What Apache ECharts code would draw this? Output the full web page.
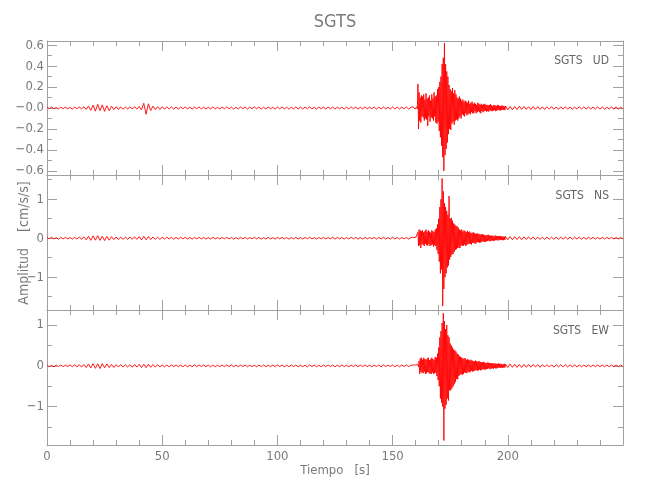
<!DOCTYPE html>
<html><head><meta charset="utf-8">
<script src="https://cdn.jsdelivr.net/npm/echarts@6/dist/echarts.min.js"></script>
<style>html,body{margin:0;padding:0;background:#fff}#c{width:650px;height:500px}</style>
</head><body><div id="c"></div>
<script>
// ---- data ----
// segment A: t = 0..158 s, step 1 s ; segment B: t = 159..198.75 s, step 0.25 s ; segment C: t = 199..250 s, step 1 s
const SEG_A_START = 0, SEG_A_STEP = 1;
const SEG_B_START = 159, SEG_B_STEP = 0.25;
const SEG_C_START = 199, SEG_C_STEP = 1;

const UD_A = [0.008,-0.006,0.01,-0.008,0.005,-0.01,0.007,-0.006,0.009,-0.008,
0.006,-0.01,0.008,-0.007,0.01,-0.009,0.012,-0.014,0.018,-0.022,
0.028,-0.03,0.035,-0.025,0.03,-0.032,0.022,-0.026,0.018,-0.015,
0.012,-0.014,0.01,-0.012,0.009,-0.011,0.012,-0.01,0.013,-0.011,
0.015,-0.018,0.045,-0.06,0.04,-0.025,0.018,-0.015,0.012,-0.014,
0.011,-0.01,0.012,-0.009,0.01,-0.011,0.008,-0.01,0.009,-0.007,
0.01,-0.008,0.007,-0.011,0.009,-0.006,0.01,-0.009,0.008,-0.01,
0.007,-0.009,0.011,-0.008,0.006,-0.01,0.009,-0.007,0.01,-0.008,
0.008,-0.011,0.007,-0.009,0.01,-0.006,0.009,-0.01,0.008,-0.007,
0.011,-0.008,0.009,-0.01,0.007,-0.009,0.01,-0.008,0.006,-0.01,
0.009,-0.007,0.01,-0.009,0.008,-0.011,0.007,-0.008,0.01,-0.009,
0.008,-0.01,0.009,-0.007,0.011,-0.008,0.007,-0.01,0.009,-0.008,
0.01,-0.009,0.008,-0.007,0.01,-0.011,0.009,-0.008,0.007,-0.01,
0.008,-0.009,0.011,-0.008,0.009,-0.01,0.007,-0.009,0.01,-0.008,
0.009,-0.007,0.01,-0.011,0.008,-0.009,0.01,-0.008,0.007,-0.01,
0.011,-0.009,0.008,-0.01,0.009,-0.008,0.01,-0.011,0.009];
const UD_B = [0.01,-0.008,0.006,-0.01,0.008,-0.005,0.012,-0.01,
0.23,-0.2,0.15,-0.12,0.1,-0.14,0.12,-0.08,
0.11,-0.09,0.13,-0.12,0.08,-0.1,0.14,-0.11,
0.09,-0.17,0.1,-0.08,0.12,-0.13,0.07,-0.09,
0.13,-0.1,0.09,-0.12,0.15,-0.08,0.11,-0.14,
0.12,-0.15,0.18,-0.13,0.2,-0.22,0.25,-0.28,
0.3,-0.36,0.42,-0.47,0.48,-0.6,0.62,-0.45,
0.42,-0.39,0.35,-0.33,0.3,-0.25,0.22,-0.2,
0.18,-0.21,0.16,-0.15,0.19,-0.13,0.14,-0.16,
0.17,-0.12,0.13,-0.11,0.1,-0.12,0.09,-0.1,
0.11,-0.08,0.09,-0.1,0.07,-0.06,0.08,-0.07,
0.06,-0.08,0.07,-0.05,0.06,-0.07,0.05,-0.06,
0.07,-0.05,0.04,-0.06,0.05,-0.04,0.06,-0.05,
0.04,-0.05,0.05,-0.03,0.04,-0.05,0.03,-0.04,
0.05,-0.03,0.04,-0.04,0.03,-0.05,0.04,-0.03,
0.03,-0.04,0.035,-0.03,0.04,-0.025,0.03,-0.035,
0.03,-0.03,0.025,-0.035,0.03,-0.02,0.035,-0.03,
0.025,-0.03,0.02,-0.025,0.03,-0.02,0.025,-0.03,
0.02,-0.025,0.03,-0.02,0.025,-0.02,0.02,-0.025,
0.02,-0.02,0.025,-0.015,0.02,-0.02,0.015,-0.02];
const UD_C = [0.02,-0.018,0.015,-0.017,0.014,-0.016,0.018,-0.013,0.015,-0.014,
0.012,-0.015,0.013,-0.012,0.014,-0.013,0.011,-0.014,0.012,-0.011,
0.013,-0.012,0.01,-0.013,0.011,-0.01,0.012,-0.011,0.01,-0.012,
0.009,-0.01,0.011,-0.009,0.012,-0.01,0.009,-0.011,0.01,-0.009,
0.011,-0.01,0.009,-0.011,0.008,-0.01,0.009,-0.008,0.01,-0.009,
0.008,-0.009];

const NS_A = [0.02,-0.015,0.025,-0.02,0.015,-0.025,0.02,-0.018,0.022,-0.02,
0.018,-0.025,0.02,-0.022,0.03,-0.028,0.035,-0.04,0.05,-0.055,
0.06,-0.05,0.065,-0.055,0.05,-0.06,0.045,-0.05,0.04,-0.035,
0.03,-0.035,0.028,-0.03,0.025,-0.03,0.03,-0.028,0.035,-0.03,
0.04,-0.045,0.05,-0.04,0.045,-0.035,0.03,-0.028,0.025,-0.03,
0.025,-0.022,0.028,-0.02,0.022,-0.025,0.02,-0.022,0.024,-0.018,
0.022,-0.02,0.018,-0.024,0.02,-0.016,0.022,-0.02,0.018,-0.022,
0.016,-0.02,0.024,-0.018,0.015,-0.022,0.02,-0.017,0.022,-0.018,
0.018,-0.024,0.016,-0.02,0.022,-0.015,0.02,-0.022,0.018,-0.016,
0.024,-0.018,0.02,-0.022,0.016,-0.02,0.022,-0.018,0.015,-0.022,
0.02,-0.016,0.022,-0.02,0.018,-0.024,0.016,-0.018,0.022,-0.02,
0.018,-0.022,0.02,-0.016,0.024,-0.018,0.016,-0.022,0.02,-0.018,
0.022,-0.02,0.018,-0.016,0.022,-0.024,0.02,-0.018,0.016,-0.022,
0.018,-0.02,0.024,-0.018,0.02,-0.022,0.016,-0.02,0.022,-0.018,
0.02,-0.016,0.022,-0.024,0.018,-0.02,0.022,-0.018,0.016,-0.022,
0.024,-0.02,0.018,-0.022,0.02,-0.018,0.022,-0.024,0.02];
const NS_B = [0.02,-0.018,0.022,-0.02,0.018,-0.022,0.02,-0.024,
0.15,-0.2,0.22,-0.18,0.2,-0.25,0.18,-0.15,
0.2,-0.17,0.15,-0.2,0.18,-0.14,0.22,-0.18,
0.16,-0.19,0.2,-0.15,0.17,-0.2,0.14,-0.18,
0.2,-0.16,0.18,-0.22,0.16,-0.18,0.22,-0.2,
0.25,-0.3,0.35,-0.4,0.5,-0.6,0.8,-0.9,
1.0,-0.8,1.53,-1.74,1.2,-1.3,0.9,-1.0,
0.8,-0.9,0.7,-0.75,0.6,-0.7,1.08,-0.55,
0.5,-0.48,0.52,-0.42,0.45,-0.4,0.38,-0.35,
0.35,-0.3,0.32,-0.28,0.3,-0.25,0.27,-0.24,
0.22,-0.25,0.2,-0.18,0.22,-0.2,0.17,-0.19,
0.2,-0.16,0.18,-0.2,0.15,-0.17,0.19,-0.15,
0.16,-0.14,0.17,-0.15,0.13,-0.16,0.14,-0.12,
0.15,-0.12,0.13,-0.14,0.11,-0.13,0.12,-0.1,
0.12,-0.1,0.11,-0.12,0.09,-0.11,0.1,-0.09,
0.1,-0.08,0.09,-0.1,0.08,-0.09,0.07,-0.08,
0.08,-0.07,0.09,-0.06,0.07,-0.08,0.06,-0.07,
0.07,-0.06,0.06,-0.07,0.05,-0.06,0.07,-0.05,
0.06,-0.05,0.05,-0.06,0.05,-0.04,0.06,-0.05,
0.05,-0.04,0.05,-0.05,0.04,-0.05,0.04,-0.04];
const NS_C = [0.045,-0.04,0.042,-0.038,0.04,-0.035,0.038,-0.04,0.035,-0.032,
0.036,-0.03,0.033,-0.035,0.03,-0.032,0.028,-0.03,0.032,-0.027,
0.03,-0.028,0.026,-0.03,0.028,-0.025,0.027,-0.024,0.026,-0.028,
0.025,-0.022,0.026,-0.024,0.022,-0.025,0.023,-0.021,0.024,-0.022,
0.02,-0.023,0.022,-0.02,0.021,-0.019,0.022,-0.02,0.019,-0.021,
0.02,-0.019];

const EW_A = [0.018,-0.02,0.015,-0.022,0.02,-0.016,0.022,-0.02,0.018,-0.015,
0.022,-0.02,0.025,-0.022,0.028,-0.03,0.035,-0.04,0.045,-0.05,
0.055,-0.06,0.05,-0.065,0.055,-0.045,0.05,-0.04,0.035,-0.04,
0.03,-0.028,0.032,-0.03,0.028,-0.025,0.03,-0.032,0.035,-0.03,
0.038,-0.04,0.042,-0.045,0.04,-0.035,0.032,-0.03,0.028,-0.025,
0.022,-0.025,0.02,-0.024,0.022,-0.018,0.024,-0.02,0.018,-0.022,
0.02,-0.022,0.016,-0.02,0.024,-0.018,0.02,-0.016,0.022,-0.02,
0.018,-0.022,0.02,-0.024,0.016,-0.02,0.022,-0.018,0.02,-0.016,
0.024,-0.02,0.018,-0.022,0.02,-0.016,0.022,-0.024,0.018,-0.02,
0.016,-0.022,0.02,-0.018,0.024,-0.02,0.016,-0.022,0.02,-0.018,
0.022,-0.016,0.02,-0.024,0.018,-0.02,0.022,-0.016,0.02,-0.022,
0.018,-0.02,0.016,-0.022,0.024,-0.018,0.02,-0.02,0.016,-0.022,
0.02,-0.018,0.022,-0.016,0.02,-0.024,0.018,-0.02,0.022,-0.018,
0.016,-0.022,0.02,-0.018,0.024,-0.02,0.018,-0.016,0.022,-0.02,
0.02,-0.022,0.018,-0.016,0.02,-0.024,0.022,-0.018,0.02,-0.016,
0.022,-0.02,0.018,-0.024,0.02,-0.016,0.022,-0.02,0.018];
const EW_B = [0.02,-0.022,0.018,-0.02,0.024,-0.018,0.02,-0.022,
0.03,-0.025,0.12,-0.2,0.18,-0.15,0.2,-0.17,
0.15,-0.18,0.2,-0.14,0.17,-0.2,0.15,-0.18,
0.18,-0.15,0.2,-0.17,0.14,-0.19,0.16,-0.2,
0.2,-0.16,0.17,-0.2,0.15,-0.18,0.22,-0.17,
0.2,-0.25,0.3,-0.35,0.45,-0.5,0.7,-0.8,
0.85,-0.9,1.05,-1.0,1.29,-1.83,1.1,-1.05,
0.9,-0.95,1.0,-0.8,0.75,-0.85,0.7,-0.6,
0.55,-0.6,0.5,-0.55,0.45,-0.5,0.4,-0.45,
0.38,-0.4,0.35,-0.32,0.3,-0.33,0.28,-0.25,
0.24,-0.22,0.22,-0.2,0.2,-0.22,0.18,-0.2,
0.18,-0.16,0.19,-0.17,0.15,-0.18,0.16,-0.14,
0.15,-0.16,0.13,-0.14,0.15,-0.12,0.13,-0.14,
0.12,-0.13,0.11,-0.12,0.13,-0.1,0.11,-0.12,
0.1,-0.11,0.12,-0.09,0.1,-0.11,0.09,-0.1,
0.09,-0.08,0.1,-0.09,0.08,-0.09,0.07,-0.08,
0.08,-0.07,0.08,-0.06,0.07,-0.08,0.06,-0.07,
0.07,-0.06,0.06,-0.07,0.06,-0.05,0.06,-0.06,
0.05,-0.06,0.05,-0.05,0.06,-0.04,0.05,-0.05,
0.05,-0.04,0.04,-0.05,0.04,-0.04,0.05,-0.04];
const EW_C = [0.042,-0.04,0.045,-0.036,0.04,-0.038,0.035,-0.04,0.036,-0.033,
0.034,-0.032,0.035,-0.03,0.032,-0.034,0.03,-0.028,0.03,-0.029,
0.028,-0.03,0.027,-0.026,0.028,-0.027,0.025,-0.026,0.027,-0.024,
0.024,-0.026,0.023,-0.025,0.024,-0.022,0.023,-0.024,0.022,-0.021,
0.022,-0.02,0.021,-0.022,0.02,-0.021,0.019,-0.02,0.021,-0.019,
0.02,-0.018];

const TITLE = 'SGTS';
const CHANNELS = ['UD', 'NS', 'EW'];
const Y_NAME = 'Amplitud    [cm/s/s]';
const X_NAME = 'Tiempo   [s]';
const X_LABELS = [0, 50, 100, 150, 200];
const UD_MAJOR = [-0.6,-0.4,-0.2,0,0.2,0.4,0.6], UD_MINOR = [-0.5,-0.3,-0.1,0.1,0.3,0.5];
const NS_MAJOR = [-1,0,1], NS_MINOR = [-1.5,-0.5,0.5,1.5];
const EW_MAJOR = [-1,0,1], EW_MINOR = [-1.5,-0.5,0.5];
const Y_RANGE = [[-0.64,0.64],[-1.84,1.62],[-1.94,1.37]];

// ---- build ----
function trace(a, b, c) {
  const pts = [];
  a.forEach((v, i) => pts.push([SEG_A_START + i * SEG_A_STEP, v]));
  b.forEach((v, i) => pts.push([SEG_B_START + i * SEG_B_STEP, v]));
  c.forEach((v, i) => pts.push([SEG_C_START + i * SEG_C_STEP, v]));
  return pts;
}
const TRACES = [trace(UD_A, UD_B, UD_C), trace(NS_A, NS_B, NS_C), trace(EW_A, EW_B, EW_C)];
const MAJORS = [UD_MAJOR, NS_MAJOR, EW_MAJOR], MINORS = [UD_MINOR, NS_MINOR, EW_MINOR];

const F = "'Liberation Sans Narrow','DejaVu Sans Condensed','Roboto Condensed',sans-serif";
const AX = '#a0a0a0', TX = '#7a7a7a';
const grids = [{left:47,right:27,top:41,height:134},{left:47,right:27,top:175,height:135},{left:47,right:27,top:310,height:135}];

function fmtY(g) {
  return function (v) {
    if (g === 0) {
      if (Math.abs(v) < 1e-9) return '\u22120.0';
      return (v < 0 ? '\u2212' : '') + Math.abs(v).toFixed(1);
    }
    return (v < 0 ? '\u2212' : '') + Math.abs(v);
  };
}

const xAxis = [], yAxis = [], series = [];
for (let g = 0; g < 3; g++) {
  ['bottom', 'top'].forEach(pos => {
    xAxis.push({
      type: 'value', gridIndex: g, position: pos, min: 0, max: 250, interval: 50,
      axisLine: {show: true, onZero: false, lineStyle: {color: AX, width: 1}},
      axisTick: {show: true, inside: true, length: 10, lineStyle: {color: AX}},
      minorTick: {show: true, splitNumber: 5, length: 5, lineStyle: {color: AX}},
      splitLine: {show: false}, minorSplitLine: {show: false},
      axisLabel: {show: g === 2 && pos === 'bottom', customValues: X_LABELS, margin: 5,
        color: TX, fontFamily: F, fontSize: 13},
      name: (g === 2 && pos === 'bottom') ? X_NAME : '',
      nameLocation: 'middle', nameGap: 19, nameMoveOverlap: false,
      nameTextStyle: {color: TX, fontFamily: F, fontSize: 13}
    });
  });
  ['left', 'right'].forEach(pos => {
    yAxis.push({
      type: 'value', gridIndex: g, position: pos, min: Y_RANGE[g][0], max: Y_RANGE[g][1],
      axisLine: {show: true, onZero: false, lineStyle: {color: AX, width: 1}},
      axisTick: {show: true, inside: true, length: 10, customValues: MAJORS[g], lineStyle: {color: AX}},
      splitLine: {show: false},
      axisLabel: {show: pos === 'left', customValues: MAJORS[g], formatter: fmtY(g), margin: 3,
        hideOverlap: false, showMinLabel: true, showMaxLabel: true,
        color: TX, fontFamily: F, fontSize: 13}
    });
    yAxis.push({
      type: 'value', gridIndex: g, position: pos, min: Y_RANGE[g][0], max: Y_RANGE[g][1],
      axisLine: {show: false, onZero: false},
      axisTick: {show: true, inside: true, length: 5, customValues: MINORS[g], lineStyle: {color: AX}},
      splitLine: {show: false},
      axisLabel: {show: false}
    });
  });
  series.push({
    type: 'line', xAxisIndex: 2 * g, yAxisIndex: 4 * g, data: TRACES[g],
    showSymbol: false, symbol: 'none', sampling: null, silent: true,
    lineStyle: {color: '#ff0000', width: 0.9}, z: 1
  });
}

const chart = echarts.init(document.getElementById('c'), null, {renderer: 'canvas'});
chart.setOption({
  animation: false,
  backgroundColor: '#ffffff',
  grid: grids,
  xAxis: xAxis,
  yAxis: yAxis,
  series: series,
  graphic: [
    {type: 'text', x: 335, y: 22, style: {text: TITLE, align: 'center', verticalAlign: 'middle', fill: TX, font: '18px ' + F}},
    {type: 'text', x: 24, y: 243, rotation: Math.PI / 2, style: {text: Y_NAME, align: 'center', verticalAlign: 'middle', fill: TX, font: '14px ' + F}},
    {type: 'text', x: 609, y: 61, style: {text: TITLE + '   ' + CHANNELS[0], align: 'right', verticalAlign: 'middle', fill: '#666', font: '12px ' + F}},
    {type: 'text', x: 609, y: 196, style: {text: TITLE + '   ' + CHANNELS[1], align: 'right', verticalAlign: 'middle', fill: '#666', font: '12px ' + F}},
    {type: 'text', x: 609, y: 331, style: {text: TITLE + '   ' + CHANNELS[2], align: 'right', verticalAlign: 'middle', fill: '#666', font: '12px ' + F}}
  ]
});
</script></body></html>
